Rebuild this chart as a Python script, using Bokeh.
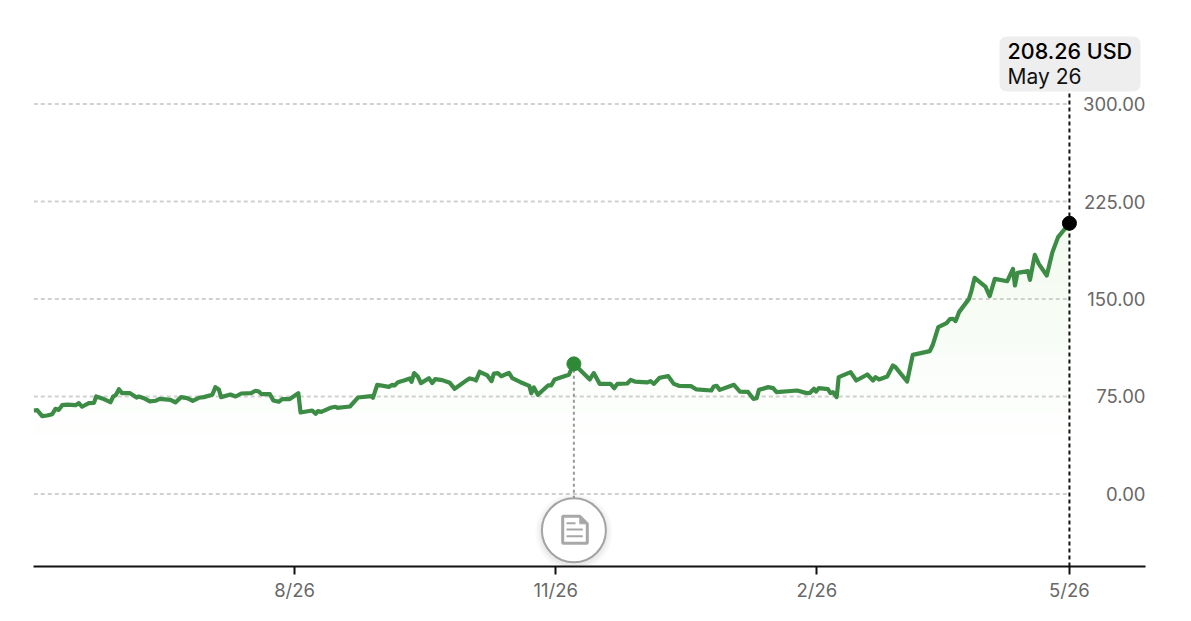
from bokeh.plotting import figure
from bokeh.embed import file_html
from bokeh.resources import INLINE
from bokeh.models import FixedTicker, BoxAnnotation, Label, PolyAnnotation, Range1d
from bokeh.core.properties import value
import numpy as np

# days since 2025-05-26
days = [0.1,1.3,3.05,4.8,6.6,7.75,8.9,10.1,11.9,14.8,16,17.1,19.5,21.3,22.1,24.2,27.1,28.1,28.9,30.1,31.2,33.9,36.3,37.1,38.9,41,43,44.4,48.3,50,52,54.1,56.1,58.25,60,63,64.1,65.3,66.1,69.4,71.2,73.2,76.7,78.2,79.4,80.3,83.3,84.5,86.4,87.6,90.3,93.3,94.1,98.2,99.4,100.2,101.4,104.6,
        106.4,107,111.5,114.3,119,119.6,121.1,125.2,126.4,127.2,128.4,130.5,132.6,133.2,134.1,135.4,136.5,139.3,140.5,141.5,144,146.7,148.4,152.8,153.75,155.2,155.9,157.2,159.9,161.4,162.2,163.6,164.8,167.5,168.7,171.6,174.7,175.4,176.3,177.7,181.3,182.4,183.6,188.6,190.4,196,197.4,199.5,203.3,204.6,205.7,
        209.2,210.4,211.9,216.2,217.4,218.6,220.6,223.6,225.6,227.4,231.75,233.6,238.8,239.7,240.7,241.8,246.8,248.9,251.7,253.6,254.8,255.6,258.9,260.6,261.8,269.1,272.4,273.6,275,275.7,276.7,279.9,280.8,281.7,283,283.7,287.9,289.9,293.8,295.8,296.7,297.9,300.8,302.8,303.7,307.8,309.8,
        315.8,316.9,318.8,321.7,322.9,324,324.9,326.1,329.6,330.5,331.6,335.4,336.9,338.7,343.1,345.1,345.8,346.7,350.4,351.1,352.8,354.2,357,359,361,365]
prices = [64.2,64.5,59.9,60.4,61.4,65.5,64.7,68.3,68.8,68.3,69.9,67.1,69.9,70.1,75,73.5,70.6,75,75.8,80.6,77.6,77.6,74.2,75,73.7,71.2,71.7,73.2,72.4,70.4,74.5,73.7,71.7,74,74.5,76.3,82.2,80.4,74.5,76.5,75,77.3,77.6,79.4,78.8,76.8,76.8,71.9,70.9,73,73,77.6,62.7,64.2,61.7,63.7,63.2,66.3,
          67.1,66.3,67.3,74.2,75.3,74,84,82.4,84,83.5,86,87.3,88.9,86.3,93,90.4,85.3,89.1,85.3,88.3,87.6,85.5,80.9,87.8,88.9,88.1,87.3,94,91.2,86.8,92.7,93,90.6,93.2,89.1,86,83.2,77.6,81.9,76.3,83.5,83.5,88.1,91.7,100.1,88.1,93,84.7,84.7,81.4,84.7,
          85,87.8,86.5,85.8,86.8,84.7,89.4,90.7,84.7,83.2,82.9,80.4,79.6,82.7,83.2,80.1,84,78.8,78.6,73.2,73.7,80.1,82.2,81.4,78.3,79.6,77.6,77.8,80.9,78.8,81.4,80.6,77.6,78.3,74.5,89.9,93.7,87.3,91.9,87.3,89.9,88.1,90.4,98.8,97.6,86.5,107,
          109.9,115,128.3,131.4,134.5,134.8,133,139.9,150.1,156.5,166.3,159.6,152.2,165.5,163.7,173.2,160.4,170.1,171.4,164.7,184,177,168.1,186,197.6,208.26]
y_ticks = [0, 75, 150, 225, 300]
y_labels = ["0.00", "75.00", "150.00", "225.00", "300.00"]
x_ticks = [92, 184, 276, 365]
x_labels = ["8/26", "11/26", "2/26", "5/26"]
event_day = 190.4
event_price = 100.1
icon_price = -28
last_label = "208.26 USD"
last_date = "May 26"

FONT = "Inter"
GREEN = "#3c8c45"
TICK = "#686868"
days_a, prices_a = np.array(days), np.array(prices)

p = figure(width=1183, height=613, output_backend="svg", toolbar_location=None,
           x_range=Range1d(0, 391.8), y_range=Range1d(-55.8, 373.5),
           min_border_left=33, min_border_right=38, min_border_top=8, min_border_bottom=47,
           outline_line_color=None, background_fill_color="white", border_fill_color="white")
p.grid.visible = False
p.yaxis.visible = False
ax = p.xaxis[0]
ax.ticker = FixedTicker(ticks=x_ticks)
ax.major_label_overrides = dict(zip(x_ticks, x_labels))
ax.axis_line_color = "#111111"
ax.axis_line_width = 2
ax.major_tick_line_color = "#111111"
ax.major_tick_line_width = 2
ax.major_tick_out = 8
ax.major_tick_in = 0
ax.minor_tick_line_color = None
ax.major_label_text_color = TICK
ax.major_label_text_font = FONT
ax.major_label_text_font_size = "18.5px"
ax.major_label_standoff = 4

# soft gradient below the line: opaque bands, palest first
thresholds = np.linspace(37, 205, 20)
for i, thr in enumerate(thresholds):
    t = (i + 1) / len(thresholds)
    col = "#%02x%02x%02x" % (round(255 - 13 * t), round(255 - 5 * t), round(255 - 16 * t))
    p.varea(days_a, np.full(days_a.shape, thr), np.maximum(prices_a, thr), fill_color=col)

# gridlines stop at the latest date
p.segment([days[0]] * 5, y_ticks, [days[-1]] * 5, y_ticks, line_color="#d0d0d0",
          line_width=2, line_dash="4 3")

p.segment([event_day], [event_price], [event_day], [icon_price], line_color="#999999",
          line_width=2, line_dash="3 3")
p.segment([days[-1]], [-55.8], [days[-1]], [309.5], line_color="#111111",
          line_width=2, line_dash="4 3")

p.line(days, prices, line_color=GREEN, line_width=4.2, line_join="round")
p.scatter([event_day], [event_price], size=14, color="#2f8a38")
p.scatter([days[-1]], [prices[-1]], size=14, color="#000000")

# right-hand value labels
p.text([391.8] * 5, y_ticks, text=y_labels, text_align="right", text_baseline="middle",
       text_color=TICK, text_font=value(FONT), text_font_size="18.5px")

# event bubble with soft shadow
for s in [78, 75, 72, 70, 68]:
    p.scatter([event_day], [icon_price - 1.5], size=s, color="#000000", alpha=0.014, line_color=None)
p.scatter([event_day], [icon_price], size=64, fill_color="white", line_color="#a3a3a3", line_width=2)

# annotation screen units run from the frame's lower-left corner
def sx(px):
    return [v - 33 for v in px]
def sy(py):
    return [566 - v for v in py]

ICON = "#a8a8a8"
def poly(xs, ys, **kw):
    p.add_layout(PolyAnnotation(xs=sx(xs), ys=sy(ys), xs_units="screen", ys_units="screen",
                                fill_alpha=1, line_alpha=1, **kw))
poly([562.2, 579.3, 586.8, 586.8, 562.2], [515.8, 515.8, 523.3, 542.8, 542.8],
     fill_color="white", line_color=ICON, line_width=3)
poly([579.3, 586.8, 579.3], [515.8, 523.3, 523.3], fill_color=ICON, line_color=ICON, line_width=1)
for x0, x1, yy in [(566, 575, 522.7), (566, 582.3, 529), (566, 582.3, 535.7)]:
    poly([x0, x1, x1, x0], [yy - 1, yy - 1, yy + 1, yy + 1], fill_color=ICON, line_color=None)

# last-value tag
p.add_layout(BoxAnnotation(left=sx([999])[0], right=sx([1140])[0], top=sy([36])[0], bottom=sy([91])[0],
                           left_units="screen", right_units="screen", top_units="screen", bottom_units="screen",
                           fill_color="#eeeeee", fill_alpha=1, line_color=None, border_radius=7))
p.add_layout(Label(x=sx([1007])[0], y=sy([50])[0], x_units="screen", y_units="screen", text=last_label,
                   text_font="Inter Medium", text_font_size="21.5px", text_color="#000000",
                   text_align="left", text_baseline="middle"))
p.add_layout(Label(x=sx([1007])[0], y=sy([76])[0], x_units="screen", y_units="screen", text=last_date,
                   text_font=FONT, text_font_size="21px", text_color="#111111",
                   text_align="left", text_baseline="middle"))

open("out.html", "w").write(file_html(p, INLINE))
